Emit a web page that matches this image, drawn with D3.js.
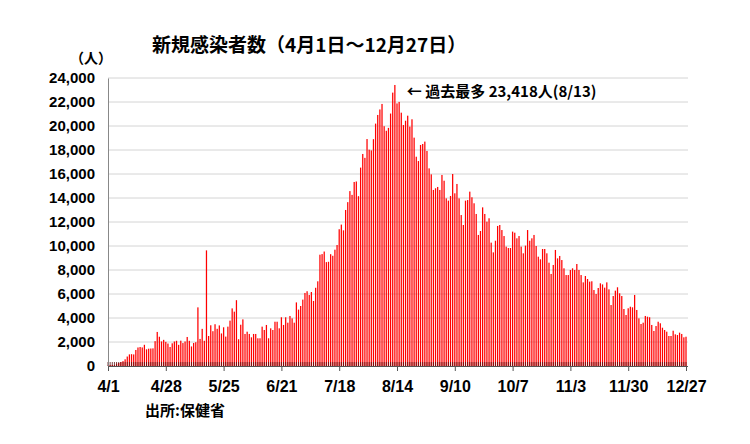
<!DOCTYPE html>
<html>
<head>
<meta charset="utf-8">
<script src="https://cdn.jsdelivr.net/npm/d3@7"></script>
<style>
  body { margin: 0; background: #fff; }
  text { font-family: "Liberation Sans", "Noto Sans CJK JP", sans-serif; font-weight: bold; fill: #000; }
  .jp { font-family: "Noto Sans CJK JP", sans-serif; }
</style>
</head>
<body>
<script>
// daily new cases, 4/1 - 12/27
const apr = [26, 84, 89, 84, 194, 250, 334, 405, 559, 789, 967, 985, 965, 1335, 1543,
  1582, 1547, 1767, 1390, 1443, 1458, 1470, 2070, 2839, 2438, 2048, 2179, 2012, 1871, 1583]
const may = [1891, 2041, 2101, 1763, 2112, 1911, 2044, 2419, 2101, 1630, 1919, 1983, 4887, 2256, 3095,
  2101, 9635, 2500, 3394, 2900, 3481, 3100, 3382, 2713, 3226, 2450, 3280, 3780, 4801, 4528, 5485]
const jun = [2230, 3440, 3886, 2670, 2860, 2670, 2390, 2670, 2670, 2310, 2310, 3280, 3000, 3420, 2310,
  3140, 3000, 3690, 3690, 3140, 4060, 3420, 4060, 3610, 4170, 3970, 3610, 5300, 4700, 5000]
const jul = [5533, 6087, 6230, 5916, 6166, 5420, 6519, 7058, 9276, 9326, 9539, 8656, 8685, 9317, 9186,
  9692, 10082, 11397, 11784, 11305, 13002, 13655, 14575, 14260, 15335, 15376, 14150, 16533, 17669, 17345, 18912]
const aug = [18027, 17970, 18901, 20200, 20920, 21379, 21838, 19983, 19603, 19843, 21038, 22782, 23418, 21882, 22008,
  21110, 20080, 20440, 20860, 19950, 20560, 19030, 17440, 17080, 18420, 18500, 18700, 17920, 16470, 15970, 14670]
const sep = [14810, 14920, 14670, 15920, 15440, 13970, 13780, 14170, 16000, 14390, 15170, 13970, 12580, 11750, 13780,
  13830, 14530, 14060, 13560, 12670, 10920, 11250, 13220, 12670, 12030, 12310, 10280, 9470, 10440, 11670]
const oct = [11750, 11330, 10830, 9950, 9830, 9830, 11200, 11110, 10640, 10830, 9950, 9390, 10030, 11330, 10440,
  10640, 10920, 10000, 9110, 8890, 9750, 9750, 9390, 8610, 7670, 8420, 9670, 8970, 9170, 8830, 8140]
const nov = [7580, 7580, 8000, 8140, 8000, 8500, 8000, 7580, 6970, 7500, 7250, 7030, 7060, 6330, 6000,
  6500, 6890, 6800, 6530, 6970, 6390, 5080, 5830, 6280, 6560, 6060, 5830, 4750, 4250, 4810]
const dec = [4940, 4890, 5920, 4670, 3970, 3500, 3610, 4170, 4110, 4060, 3420, 2920, 3330, 3690, 3560,
  3190, 3000, 2860, 2500, 2500, 2940, 2640, 2580, 2780, 2670, 2390, 2440]

const tickLabels = ["4/1", "4/28", "5/25", "6/21", "7/18", "8/14", "9/10", "10/7", "11/3", "11/30", "12/27"]
const yTicks = [0, 2000, 4000, 6000, 8000, 10000, 12000, 14000, 16000, 18000, 20000, 22000, 24000]

const title = "新規感染者数（4月1日～12月27日）"
const unit = "（人）"
const peakNote = "← 過去最多 23,418人(8/13)"
const source = "出所:保健省"

const cases = [].concat(apr, may, jun, jul, aug, sep, oct, nov, dec)
const fmt = d3.timeFormat("%-m/%-d")
const days = d3.timeDay.range(new Date(2021, 3, 1), new Date(2021, 11, 28)).map(fmt)
const data = days.map((d, i) => ({ day: d, v: cases[i] }))

let svg = d3.select("body").append("svg").attr("width", 750).attr("height", 444)

let x = d3.scalePoint().domain(days).range([108, 686])
let y = d3.scaleLinear().domain([0, 24000]).range([366, 78])

// gridlines
svg.append("g")
  .selectAll("line")
  .data(yTicks.slice(1))
  .join("line")
  .attr("x1", 108).attr("x2", 688)
  .attr("y1", d => y(d)).attr("y2", d => y(d))
  .attr("stroke", "#d4d4d4")

// bars
let bw = 1.25
svg.append("g")
  .selectAll("rect")
  .data(data)
  .join("rect")
  .attr("x", d => x(d.day) - bw/2)
  .attr("y", d => y(d.v))
  .attr("width", bw)
  .attr("height", d => y(0) - y(d.v))
  .attr("fill", "#ff0000")

// small daily ticks at the base
svg.append("g")
  .selectAll("line")
  .data(days)
  .join("line")
  .attr("x1", d => x(d)).attr("x2", d => x(d))
  .attr("y1", 362).attr("y2", 366)
  .attr("stroke", "#5a1010")
  .attr("stroke-width", 0.8)

// y axis
let ya = svg.append("g")
  .attr("transform", "translate(108,0)")
  .call(d3.axisLeft(y).tickValues(yTicks).tickFormat(d3.format(",")).tickSize(0).tickPadding(13))
ya.select(".domain").attr("stroke", "#888")
ya.selectAll("text").attr("font-size", 15)

// x axis
let xa = svg.append("g")
  .attr("transform", "translate(0,366)")
  .call(d3.axisBottom(x).tickValues(tickLabels).tickSize(5).tickPadding(10))
xa.select(".domain").attr("stroke", "#555").attr("d", "M108,0.5H688")
xa.selectAll(".tick line").attr("stroke", "#555")
xa.selectAll("text").attr("font-size", 16)

// texts
svg.append("text").attr("class", "jp")
  .attr("x", 152).attr("y", 52)
  .attr("font-size", 19)
  .text(title)

svg.append("text").attr("class", "jp")
  .attr("x", 70).attr("y", 63)
  .attr("font-size", 14)
  .text(unit)

let peak = data[d3.maxIndex(data, d => d.v)]
svg.append("text").attr("class", "jp")
  .attr("x", x(peak.day) + 12).attr("y", 97)
  .attr("font-size", 15)
  .text(peakNote)

svg.append("text").attr("class", "jp")
  .attr("x", 145).attr("y", 416)
  .attr("font-size", 15)
  .text(source)
</script>
</body>
</html>
